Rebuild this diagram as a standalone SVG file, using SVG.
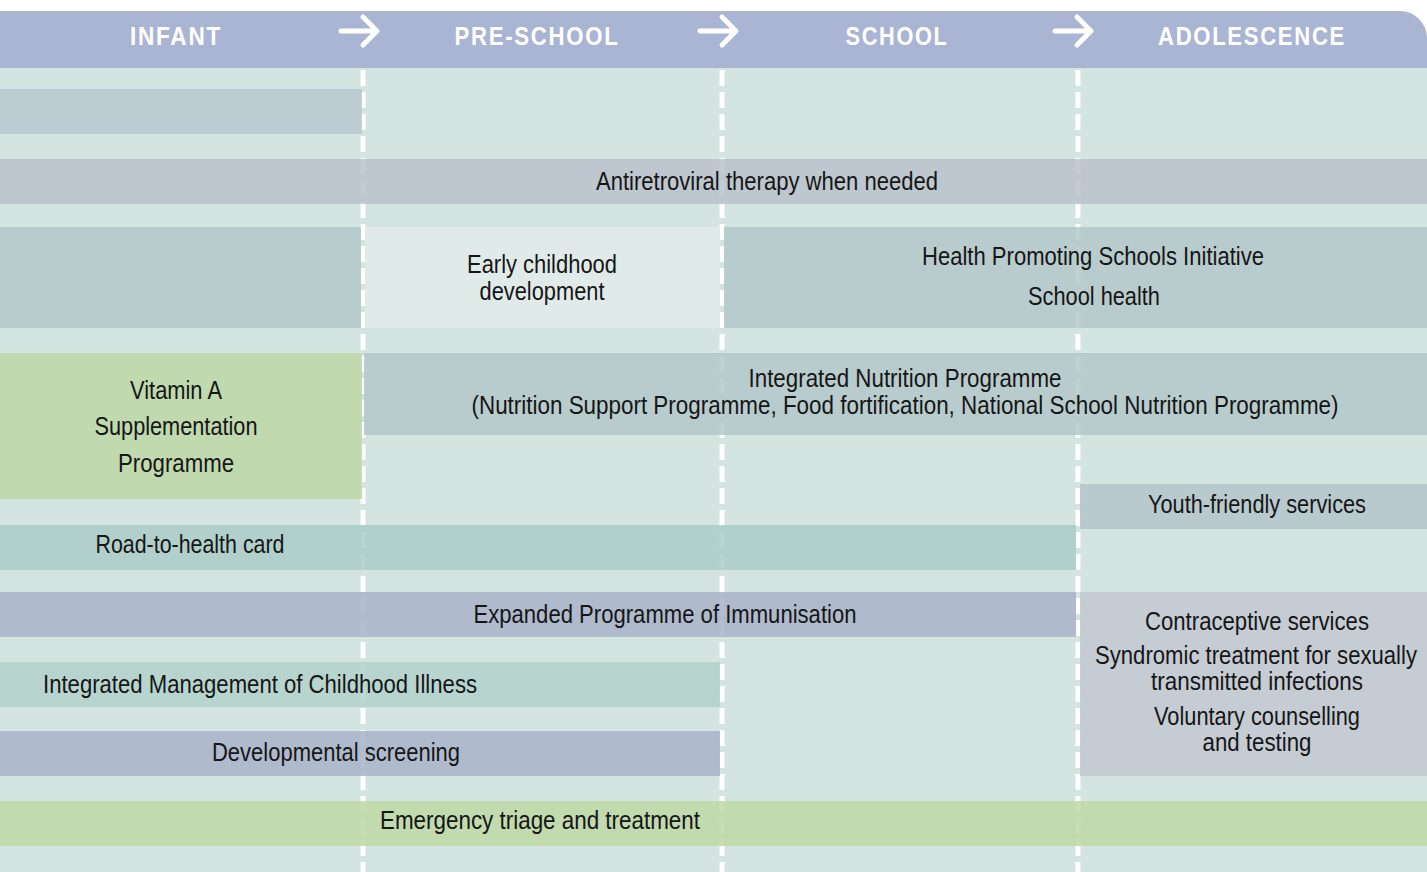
<svg xmlns="http://www.w3.org/2000/svg" width="1427" height="872" viewBox="0 0 1427 872">
<style>
.t{font-family:"Liberation Sans",Arial,sans-serif;font-size:25px;fill:#161616;text-anchor:middle}
.h{font-family:"Liberation Sans",Arial,sans-serif;font-size:26px;font-weight:bold;fill:#ffffff;text-anchor:middle;letter-spacing:2px}
.bar{fill-opacity:0.86}
.dash{stroke:#ffffff;stroke-width:5;stroke-dasharray:16 6;fill:none}
.arr{stroke:#ffffff;stroke-width:5;stroke-linecap:round;stroke-linejoin:round;fill:none}
</style>
<rect x="0" y="0" width="1427" height="872" fill="#ffffff"/>
<rect x="0" y="68" width="1427" height="804" fill="#d4e4e1"/>
<g id="header">
<path d="M0 11 H1400 A27 27 0 0 1 1427 38 V68 H0 Z" fill="#aab5d3"/>
<text class="h" x="176" y="45" textLength="92" lengthAdjust="spacingAndGlyphs">INFANT</text>
<text class="h" x="537" y="45" textLength="165" lengthAdjust="spacingAndGlyphs">PRE-SCHOOL</text>
<text class="h" x="897" y="45" textLength="103" lengthAdjust="spacingAndGlyphs">SCHOOL</text>
<text class="h" x="1252" y="45" textLength="188" lengthAdjust="spacingAndGlyphs">ADOLESCENCE</text>
</g>
<g id="connectors">
<path class="arr" d="M341 31 H376 M363 17 L377 31 L363 45"/>
<path class="arr" d="M700 31 H735 M722 17 L736 31 L722 45"/>
<path class="arr" d="M1055 31 H1090 M1077 17 L1091 31 L1077 45"/>
</g>
<g id="dividers">
<line class="dash" x1="363" y1="70" x2="363" y2="872"/>
<line class="dash" x1="722" y1="70" x2="722" y2="872"/>
<line class="dash" x1="1078" y1="70" x2="1078" y2="872"/>
</g>
<g id="row1"><rect class="bar" x="0" y="89" width="362" height="45" fill="#b9c7cf"/></g>
<g id="arv">
<rect class="bar" x="0" y="159" width="1427" height="45" fill="#bac3cc"/>
<text class="t" x="767" y="190" textLength="342" lengthAdjust="spacingAndGlyphs">Antiretroviral therapy when needed</text>
</g>
<g id="row3-left"><rect class="bar" x="0" y="227" width="361" height="101" fill="#b3c8ca"/></g>
<g id="ecd">
<rect x="365" y="227" width="355" height="101" fill="#e0ebe9"/>
<text class="t" x="542" y="273" textLength="150" lengthAdjust="spacingAndGlyphs">Early childhood</text>
<text class="t" x="542" y="300" textLength="125" lengthAdjust="spacingAndGlyphs">development</text>
</g>
<g id="hps">
<rect class="bar" x="724" y="227" width="703" height="101" fill="#b3c8ca"/>
<text class="t" x="1093" y="265" textLength="342" lengthAdjust="spacingAndGlyphs">Health Promoting Schools Initiative</text>
<text class="t" x="1094" y="305" textLength="132" lengthAdjust="spacingAndGlyphs">School health</text>
</g>
<g id="vitamin-a">
<rect class="bar" x="0" y="353" width="362" height="146" fill="#bdd7a5"/>
<text class="t" x="176" y="399" textLength="92" lengthAdjust="spacingAndGlyphs">Vitamin A</text>
<text class="t" x="176" y="435" textLength="163" lengthAdjust="spacingAndGlyphs">Supplementation</text>
<text class="t" x="176" y="472" textLength="116" lengthAdjust="spacingAndGlyphs">Programme</text>
</g>
<g id="nutrition">
<rect class="bar" x="364" y="353" width="1063" height="82" fill="#b3c8ca"/>
<text class="t" x="905" y="387" textLength="313" lengthAdjust="spacingAndGlyphs">Integrated Nutrition Programme</text>
<text class="t" x="905" y="414" textLength="867" lengthAdjust="spacingAndGlyphs">(Nutrition Support Programme, Food fortification, National School Nutrition Programme)</text>
</g>
<g id="youth">
<rect class="bar" x="1080" y="484" width="347" height="45" fill="#b5c6cb"/>
<text class="t" x="1257" y="513" textLength="218" lengthAdjust="spacingAndGlyphs">Youth-friendly services</text>
</g>
<g id="road">
<rect class="bar" x="0" y="525" width="1076" height="45" fill="#abcdc7"/>
<text class="t" x="190" y="553" textLength="189" lengthAdjust="spacingAndGlyphs">Road-to-health card</text>
</g>
<g id="epi">
<rect class="bar" x="0" y="592" width="1076" height="45" fill="#a9b3ca"/>
<text class="t" x="665" y="623" textLength="383" lengthAdjust="spacingAndGlyphs">Expanded Programme of Immunisation</text>
</g>
<g id="adolescent-services">
<rect class="bar" x="1080" y="592" width="347" height="184" fill="#c4c8d2"/>
<text class="t" x="1257" y="630" textLength="224" lengthAdjust="spacingAndGlyphs">Contraceptive services</text>
<text class="t" x="1256" y="664" textLength="322" lengthAdjust="spacingAndGlyphs">Syndromic treatment for sexually</text>
<text class="t" x="1257" y="690" textLength="212" lengthAdjust="spacingAndGlyphs">transmitted infections</text>
<text class="t" x="1257" y="725" textLength="206" lengthAdjust="spacingAndGlyphs">Voluntary counselling</text>
<text class="t" x="1257" y="751" textLength="109" lengthAdjust="spacingAndGlyphs">and testing</text>
</g>
<g id="imci">
<rect class="bar" x="0" y="662" width="720" height="45" fill="#b2d2cb"/>
<text class="t" x="260" y="693" textLength="434" lengthAdjust="spacingAndGlyphs">Integrated Management of Childhood Illness</text>
</g>
<g id="dev-screening">
<rect class="bar" x="0" y="731" width="720" height="45" fill="#a9b3ca"/>
<text class="t" x="336" y="761" textLength="248" lengthAdjust="spacingAndGlyphs">Developmental screening</text>
</g>
<g id="emergency">
<rect class="bar" x="0" y="801" width="1427" height="45" fill="#bed8a5"/>
<text class="t" x="540" y="829" textLength="320" lengthAdjust="spacingAndGlyphs">Emergency triage and treatment</text>
</g>
</svg>
